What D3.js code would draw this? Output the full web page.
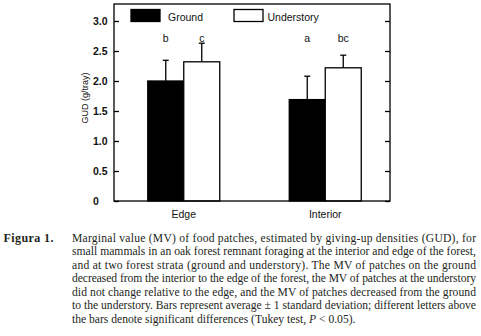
<!DOCTYPE html>
<html lang="en">
<head>
    <meta charset="UTF-8">
    <title>GUD chart</title>
    <script src="https://cdn.jsdelivr.net/npm/d3@7/dist/d3.min.js"></script>
    <style>
        body { margin: 0; background: #fff; }
        svg text.sans { font-family: "Liberation Sans", Arial, sans-serif; fill: #111; }
        svg text.serif { font-family: "Liberation Serif", "Times New Roman", serif; fill: #231f20; }
    </style>
</head>
<body>
    <script>
        //data
        var categories = ['Edge', 'Interior'];
        var series = ['Ground', 'Understory'];
        var groundMean = [2.00, 1.69];
        var groundSd = [0.345, 0.39];
        var understoryMean = [2.32, 2.22];
        var understorySd = [0.31, 0.21];
        var groundLetters = ['b', 'a'];
        var understoryLetters = ['c', 'bc'];
        var yTicks = [0, 0.5, 1.0, 1.5, 2.0, 2.5, 3.0];

        var captionLines = [
            'Marginal value (MV) of food patches, estimated by giving-up densities (GUD), for',
            'small mammals in an oak forest remnant foraging at the interior and edge of the forest,',
            'and at two forest strata (ground and understory). The MV of patches on the ground',
            'decreased from the interior to the edge of the forest, the MV of patches at the understory',
            'did not change relative to the edge, and the MV of patches decreased from the ground',
            'to the understory. Bars represent average \u00b1 1 standard deviation; different letters above'
        ];

        var w = 481;
        var h = 336;

        //frame of the plot (not "top": that name is taken by window.top)
        var fLeft = 114, fRight = 390, fTop = 4, fBottom = 201;

        var svg = d3.select('body')
                    .append('svg')
                    .attr('width', w)
                    .attr('height', h);

        //scales
        var yScale = d3.scaleLinear()
                        .domain([0, 3.28])
                        .range([fBottom, fTop + 0.2]);

        var xScale = d3.scaleBand()
                        .domain(categories)
                        .range([113, 396])
                        .padding(0);

        var xInner = d3.scaleBand()
                        .domain(series)
                        .range([-36, 36]);

        var colors = {Ground: '#000', Understory: '#fff'};

        //build rows from the arrays
        var rows = [];
        categories.forEach(function(c, i) {
            rows.push({cat: c, s: 'Ground', mean: groundMean[i], sd: groundSd[i], letter: groundLetters[i]});
            rows.push({cat: c, s: 'Understory', mean: understoryMean[i], sd: understorySd[i], letter: understoryLetters[i]});
        });

        function bx(d) {
            return xScale(d.cat) + xScale.bandwidth() / 2 + xInner(d.s);
        }
        function mid(d) {
            return bx(d) + xInner.bandwidth() / 2;
        }

        //error bars (upper half only)
        svg.selectAll('line.err')
            .data(rows)
            .enter()
            .append('line')
            .attr('class', 'err')
            .attr('x1', mid)
            .attr('x2', mid)
            .attr('y1', function(d) { return yScale(d.mean); })
            .attr('y2', function(d) { return yScale(d.mean + d.sd); })
            .attr('stroke', '#000')
            .attr('stroke-width', 1.3);

        svg.selectAll('line.cap')
            .data(rows)
            .enter()
            .append('line')
            .attr('class', 'cap')
            .attr('x1', function(d) { return mid(d) - 3; })
            .attr('x2', function(d) { return mid(d) + 3; })
            .attr('y1', function(d) { return yScale(d.mean + d.sd); })
            .attr('y2', function(d) { return yScale(d.mean + d.sd); })
            .attr('stroke', '#000')
            .attr('stroke-width', 1.3);

        //bars
        svg.selectAll('rect.bar')
            .data(rows)
            .enter()
            .append('rect')
            .attr('class', 'bar')
            .attr('x', bx)
            .attr('width', xInner.bandwidth())
            .attr('y', function(d) { return yScale(d.mean); })
            .attr('height', function(d) { return yScale(0) - yScale(d.mean); })
            .attr('fill', function(d) { return colors[d.s]; })
            .attr('stroke', '#000')
            .attr('stroke-width', 1.3);

        //letters above bars
        svg.selectAll('text.letter')
            .data(rows)
            .enter()
            .append('text')
            .attr('class', 'sans letter')
            .attr('x', mid)
            .attr('y', yScale(2.655))
            .attr('text-anchor', 'middle')
            .attr('font-size', '10.5px')
            .text(function(d) { return d.letter; });

        //frame
        svg.append('rect')
            .attr('x', fLeft)
            .attr('y', fTop)
            .attr('width', fRight - fLeft)
            .attr('height', fBottom - fTop)
            .attr('fill', 'none')
            .attr('stroke', '#000')
            .attr('stroke-width', 1.3);

        //y axis, ticks point inward
        var yAxis = d3.axisRight(yScale)
                        .tickValues(yTicks)
                        .tickSize(5)
                        .tickFormat(function(d) { return d === 0 ? '0' : d3.format('.1f')(d); });

        var gy = svg.append('g')
            .attr('class', 'axis')
            .attr('transform', 'translate(' + fLeft + ',0)')
            .call(yAxis);
        gy.select('.domain').remove();
        gy.selectAll('line').attr('stroke', '#000').attr('stroke-width', 1.3);
        gy.selectAll('text')
            .attr('class', 'sans')
            .attr('x', 93 - fLeft)
            .attr('dy', '0.35em')
            .attr('text-anchor', 'start')
            .attr('font-size', '10.5px')
            .attr('font-weight', 'bold');

        //mirrored ticks on the right side
        var gy2 = svg.append('g')
            .attr('transform', 'translate(' + fRight + ',0)')
            .call(d3.axisLeft(yScale).tickValues(yTicks).tickSize(5).tickFormat(''));
        gy2.select('.domain').remove();
        gy2.selectAll('line').attr('stroke', '#000').attr('stroke-width', 1.3);

        //x axis labels
        var gx = svg.append('g')
            .attr('transform', 'translate(0,' + fBottom + ')')
            .call(d3.axisBottom(xScale).tickSize(0));
        gx.select('.domain').remove();
        gx.selectAll('text')
            .attr('class', 'sans')
            .attr('y', 17)
            .attr('dy', 0)
            .attr('font-size', '10.5px');

        //y label
        svg.append('text')
            .attr('class', 'sans')
            .attr('transform', 'translate(88,98) rotate(-90)')
            .attr('text-anchor', 'middle')
            .attr('font-size', '9px')
            .text('GUD (g/tray)');

        //legend
        var legendPos = [{x: 131, tx: 168}, {x: 234, tx: 267.5}];
        series.forEach(function(s, i) {
            svg.append('rect')
                .attr('x', legendPos[i].x)
                .attr('y', 9.5)
                .attr('width', 29)
                .attr('height', 12)
                .attr('fill', colors[s])
                .attr('stroke', '#000')
                .attr('stroke-width', 1.3);
            svg.append('text')
                .attr('class', 'sans')
                .attr('x', legendPos[i].tx)
                .attr('y', 21)
                .attr('font-size', '10.5px')
                .text(s);
        });

        //caption
        svg.append('text')
            .attr('class', 'serif')
            .attr('x', 3.5)
            .attr('y', 241.5)
            .attr('font-size', '12px')
            .attr('font-weight', 'bold')
            .attr('textLength', 50)
            .attr('lengthAdjust', 'spacing')
            .text('Figura 1.');

        var lineH = 13.5;
        var capSize = '11.6px';
        svg.selectAll('text.capline')
            .data(captionLines)
            .enter()
            .append('text')
            .attr('class', 'serif capline')
            .attr('x', 72)
            .attr('y', function(d, i) { return 241.5 + i * lineH; })
            .attr('font-size', capSize)
            .attr('textLength', 404)
            .attr('lengthAdjust', 'spacing')
            .text(function(d) { return d; });

        var last = svg.append('text')
            .attr('class', 'serif')
            .attr('x', 72)
            .attr('y', 241.5 + 6 * lineH)
            .attr('font-size', capSize);
        last.append('tspan').text('the bars denote significant differences (Tukey test, ');
        last.append('tspan').attr('font-style', 'italic').text('P');
        last.append('tspan').text(' < 0.05).');
    </script>
</body>
</html>
